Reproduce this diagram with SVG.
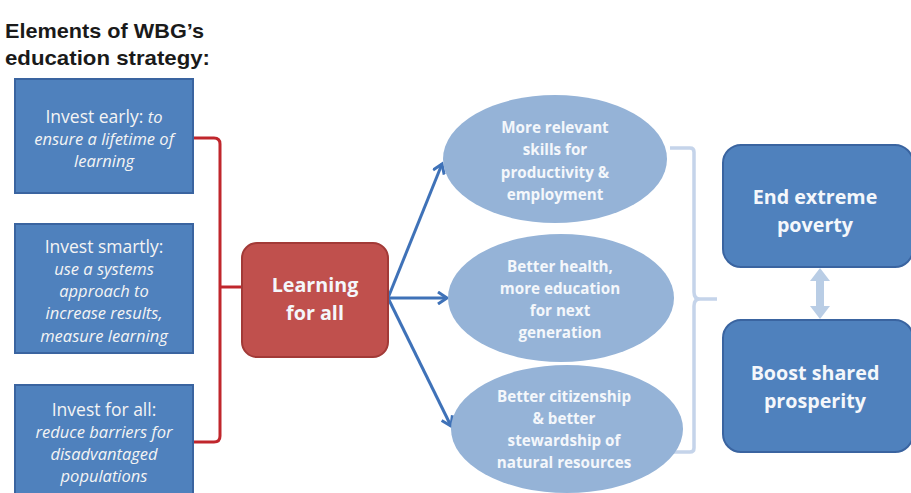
<svg xmlns="http://www.w3.org/2000/svg" width="911" height="493" viewBox="0 0 911 493">
<defs>
<style>
.title{font-family:"Liberation Sans",Arial,sans-serif;font-weight:bold;font-size:21px;fill:#1a1a1a}
.box{fill:#4f81bd;stroke:#3a64a0;stroke-width:2}
.red{fill:#c0504d;stroke:#a23a37;stroke-width:2}
.ell{fill:#95b3d7}
.t{font-family:"Open Sans","Liberation Sans",sans-serif;fill:#f4f4f4;text-anchor:middle}
.reg{font-size:17.5px}
.it{font-size:16.5px;font-style:italic}
.eb{font-family:"Open Sans","Liberation Sans",sans-serif;font-weight:bold;font-size:15.2px;fill:#f4f7fb;text-anchor:middle}
.big{font-family:"Open Sans","Liberation Sans",sans-serif;font-weight:bold;font-size:19.7px;fill:#f4f7fb;text-anchor:middle}
.redline{fill:none;stroke:#c0262c;stroke-width:3}
.blueline{fill:none;stroke:#3f72b8;stroke-width:3}
.light{fill:none;stroke:#c5d4ea;stroke-width:3.5}
</style>
<marker id="ah" markerWidth="14" markerHeight="14" refX="11" refY="7" orient="auto" markerUnits="userSpaceOnUse">
<path d="M2,1 L11,7 L2,13" fill="none" stroke="#3f72b8" stroke-width="3" stroke-linejoin="miter"/>
</marker>
<marker id="dh" markerWidth="14" markerHeight="22" refX="0" refY="11" orient="auto-start-reverse" markerUnits="userSpaceOnUse">
<path d="M0,1 L13,11 L0,21 Z" fill="#b9cde5"/>
</marker>
</defs>
<rect width="911" height="493" fill="#ffffff"/>

<g id="heading">
<text class="title" x="5" y="38" textLength="199" lengthAdjust="spacingAndGlyphs">Elements of WBG’s</text>
<text class="title" x="5" y="65" textLength="205" lengthAdjust="spacingAndGlyphs">education strategy:</text>
</g>

<g id="connectors">
<path class="redline" d="M193,138 H214 Q220,138 220,144 V436 Q220,442 214,442 H193"/>
<path class="redline" d="M220,287 H243"/>
<line class="blueline" x1="388" y1="298" x2="442" y2="164" marker-end="url(#ah)"/>
<line class="blueline" x1="388" y1="298" x2="447" y2="298" marker-end="url(#ah)"/>
<line class="blueline" x1="388" y1="298" x2="451" y2="426" marker-end="url(#ah)"/>
<path class="light" d="M670,148 H690 Q694,148 694,152 V292 Q694,299 700,299 H717 M700,299 Q694,299 694,306 V448 Q694,452 690,452 H672"/>
<line x1="820" y1="281" x2="820" y2="306" stroke="#b9cde5" stroke-width="8" marker-start="url(#dh)" marker-end="url(#dh)"/>
</g>

<g id="invest-early">
<rect class="box" x="15" y="79" width="178" height="114"/>
<text class="t reg" x="104" y="123">Invest early: <tspan class="it">to</tspan></text>
<text class="t it" x="104" y="145">ensure a lifetime of</text>
<text class="t it" x="104" y="167">learning</text>
</g>

<g id="invest-smartly">
<rect class="box" x="15" y="224" width="178" height="129"/>
<text class="t reg" x="104" y="253">Invest smartly:</text>
<text class="t it" x="104" y="275">use a systems</text>
<text class="t it" x="104" y="297">approach to</text>
<text class="t it" x="104" y="319">increase results,</text>
<text class="t it" x="104" y="342">measure learning</text>
</g>

<g id="invest-for-all">
<rect class="box" x="15" y="385" width="178" height="112"/>
<text class="t reg" x="104" y="416">Invest for all:</text>
<text class="t it" x="104" y="438">reduce barriers for</text>
<text class="t it" x="104" y="460">disadvantaged</text>
<text class="t it" x="104" y="482">populations</text>
</g>

<g id="learning-for-all">
<rect class="red" x="242" y="243" width="146" height="114" rx="15"/>
<text class="big" x="315" y="292">Learning</text>
<text class="big" x="315" y="320">for all</text>
</g>

<g id="skills">
<ellipse class="ell" cx="555" cy="159" rx="112" ry="64"/>
<text class="eb" x="555" y="133">More relevant</text>
<text class="eb" x="555" y="155">skills for</text>
<text class="eb" x="555" y="178">productivity &amp;</text>
<text class="eb" x="555" y="200">employment</text>
</g>

<g id="health">
<ellipse class="ell" cx="561" cy="298" rx="113" ry="64"/>
<text class="eb" x="560" y="272">Better health,</text>
<text class="eb" x="560" y="294">more education</text>
<text class="eb" x="560" y="316">for next</text>
<text class="eb" x="560" y="338">generation</text>
</g>

<g id="citizenship">
<ellipse class="ell" cx="567" cy="429" rx="116" ry="64"/>
<text class="eb" x="564" y="402">Better citizenship</text>
<text class="eb" x="564" y="424">&amp; better</text>
<text class="eb" x="564" y="446">stewardship of</text>
<text class="eb" x="564" y="468">natural resources</text>
</g>

<g id="end-poverty">
<rect class="box" x="723" y="145" width="190" height="122" rx="18"/>
<text class="big" x="815" y="204">End extreme</text>
<text class="big" x="815" y="232">poverty</text>
</g>

<g id="shared-prosperity">
<rect class="box" x="723" y="320" width="190" height="132" rx="18"/>
<text class="big" x="815" y="380">Boost shared</text>
<text class="big" x="815" y="408">prosperity</text>
</g>
</svg>
